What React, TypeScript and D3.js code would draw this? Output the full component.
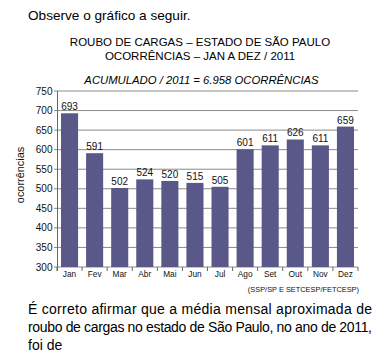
import React from "react";
import * as d3 from "d3";

const months = ["Jan", "Fev", "Mar", "Abr", "Mai", "Jun", "Jul", "Ago", "Set", "Out", "Nov", "Dez"];
const occurrences = [693, 591, 502, 524, 520, 515, 505, 601, 611, 626, 611, 659];
const yTicks = [300, 350, 400, 450, 500, 550, 600, 650, 700, 750];

const FONT = "Liberation Sans, Arial, sans-serif";

export default function App() {
  const W = 376, H = 363;
  const x = d3.scaleBand<string>().domain(months).range([57, 358]).paddingInner(0.32).paddingOuter(0.16);
  const y = d3.scaleLinear().domain([300, 750]).range([267, 91]);
  const step = x.step();
  const x0 = 57;
  const boundaries = d3.range(months.length + 1).map((i) => x0 + i * step);

  return (
    <svg width={W} height={H} style={{ position: "absolute", left: 0, top: 0, background: "#fff", fontFamily: FONT }}>
      <text x={28} y={20} fontSize={13.6} fill="#000">Observe o gráfico a seguir.</text>
      <text x={200} y={46} fontSize={11.5} textAnchor="middle" fill="#000">ROUBO DE CARGAS – ESTADO DE SÃO PAULO</text>
      <text x={200} y={59.5} fontSize={11.5} textAnchor="middle" fill="#000">OCORRÊNCIAS – JAN A DEZ / 2011</text>
      <text x={201.5} y={84} fontSize={11.3} textAnchor="middle" fontStyle="italic" fill="#000">ACUMULADO / 2011 = 6.958 OCORRÊNCIAS</text>

      {yTicks.map((t) => (
        <g key={t}>
          <line x1={54} x2={358} y1={y(t)} y2={y(t)} stroke="#8a8a8a" strokeWidth={1} />
          <text x={52.5} y={y(t) + 3.5} fontSize={10} textAnchor="end" fill="#111">{t}</text>
        </g>
      ))}
      <line x1={57.5} x2={57.5} y1={y(750)} y2={y(300) + 4} stroke="#666" strokeWidth={1} />
      {boundaries.map((bx, i) => (
        <line key={i} x1={bx} x2={bx} y1={y(300)} y2={y(300) + 4} stroke="#666" strokeWidth={1} />
      ))}

      {months.map((m, i) => (
        <g key={m}>
          <rect x={x(m)!} y={y(occurrences[i])} width={x.bandwidth()} height={y(300) - y(occurrences[i])} fill="#5a5789" />
          <text x={x(m)! + x.bandwidth() / 2} y={y(occurrences[i]) - 3} fontSize={10} textAnchor="middle" fill="#111">{occurrences[i]}</text>
          <text x={x(m)! + x.bandwidth() / 2} y={277} fontSize={8.3} textAnchor="middle" fill="#111">{m}</text>
        </g>
      ))}

      <text transform="translate(24,175) rotate(-90)" fontSize={10.9} textAnchor="middle" fill="#111">ocorrências</text>
      <text x={359} y={292} fontSize={7.4} textAnchor="end" fill="#111">(SSP/SP E SETCESP/FETCESP)</text>

      <text x={28} y={314} fontSize={14} fill="#000" textLength={344} lengthAdjust="spacing">É correto afirmar que a média mensal aproximada de</text>
      <text x={28} y={332} fontSize={14} fill="#000" textLength={344} lengthAdjust="spacing">roubo de cargas no estado de São Paulo, no ano de 2011,</text>
      <text x={28} y={350} fontSize={14} fill="#000">foi de</text>
    </svg>
  );
}
